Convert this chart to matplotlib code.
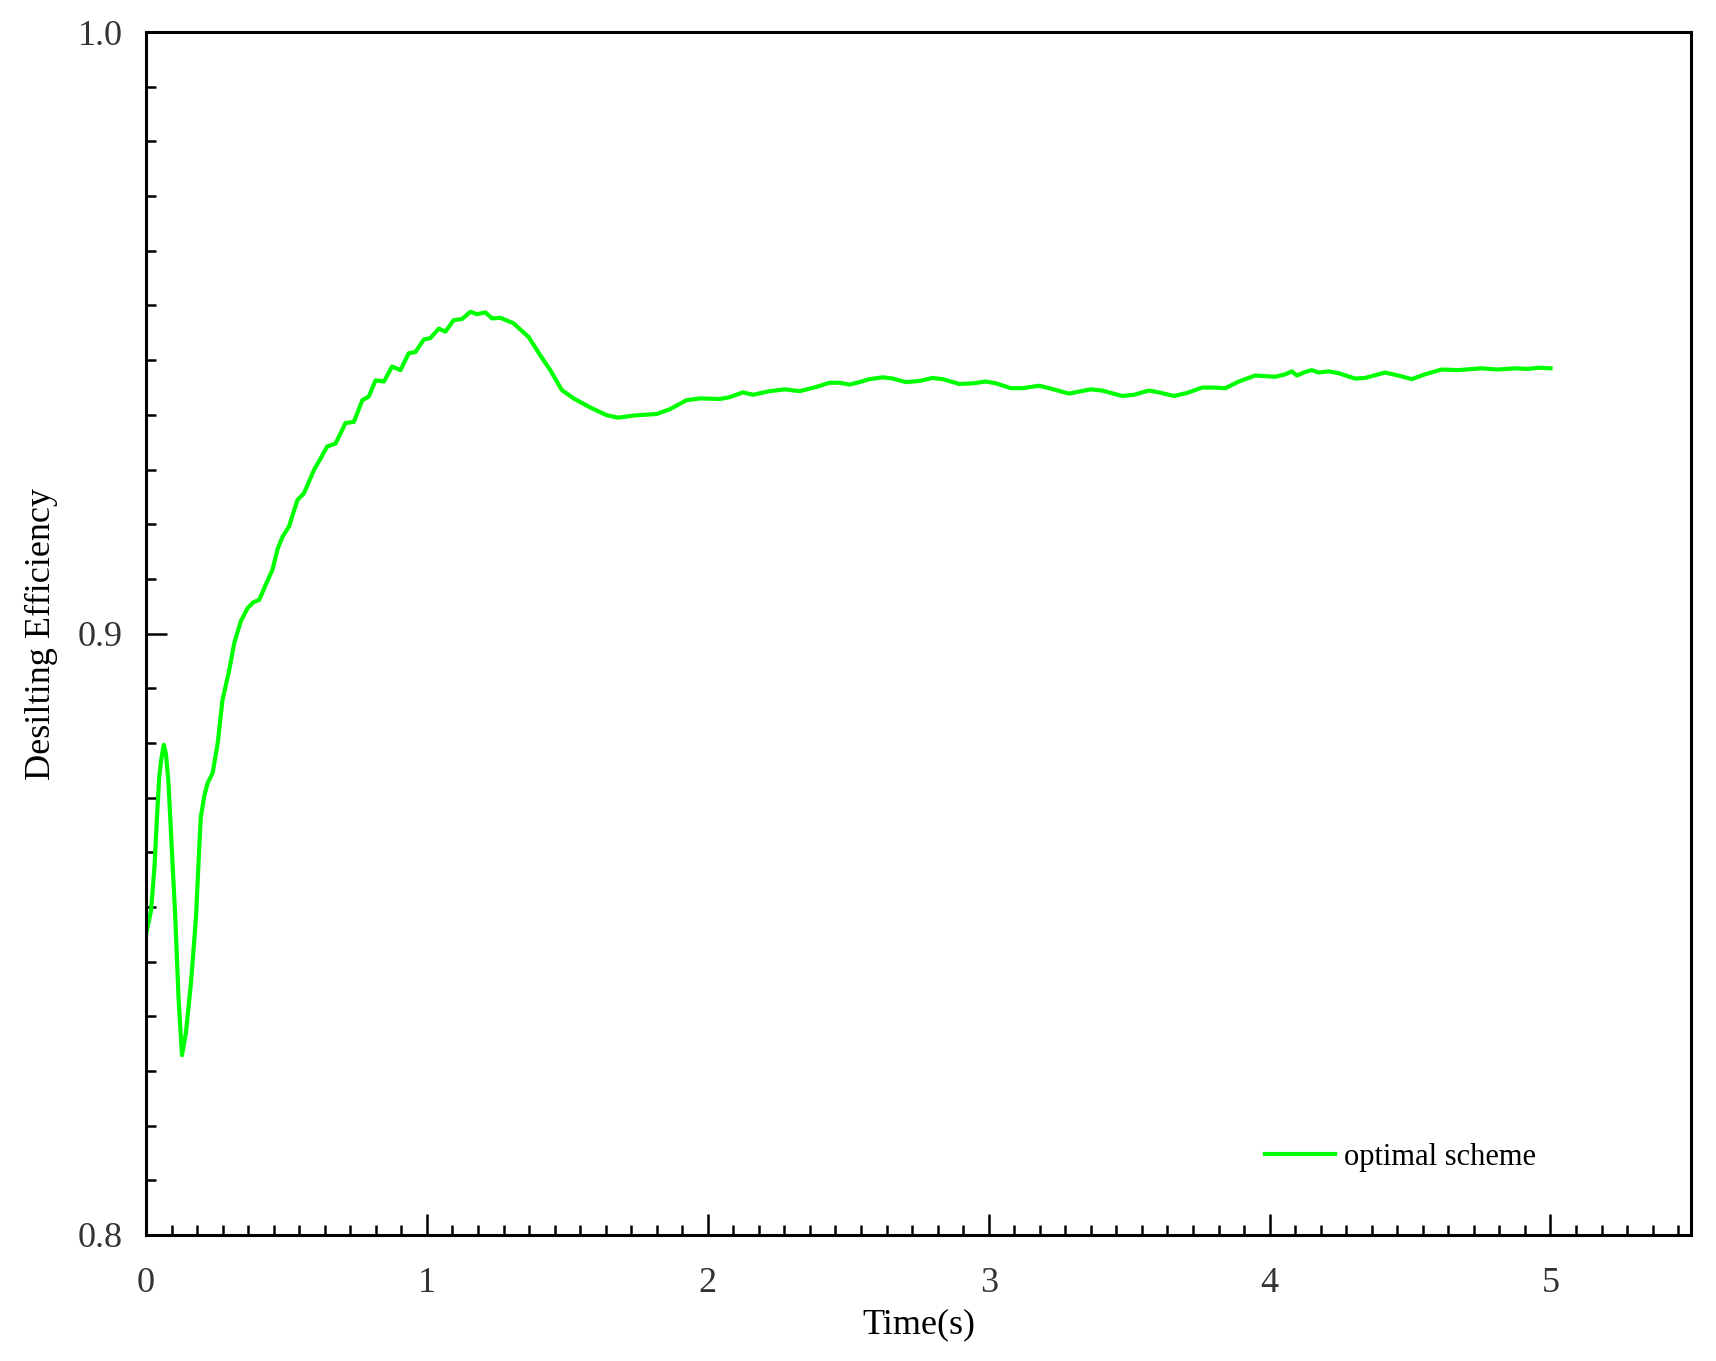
"""
Desilting efficiency vs. time for the optimal scheme.
"""

import matplotlib
matplotlib.use('Agg')
from matplotlib import pyplot as plt
from matplotlib.ticker import MultipleLocator, FixedLocator
import numpy as np

# values
time_s = [
    0.000, 0.018, 0.030, 0.039, 0.047, 0.054, 0.063, 0.071, 0.080, 0.092,
    0.104, 0.116, 0.128, 0.142, 0.160, 0.178, 0.189, 0.195, 0.207, 0.219,
    0.237, 0.255, 0.272, 0.296, 0.314, 0.337, 0.361, 0.382, 0.403, 0.425,
    0.450, 0.468, 0.486, 0.509, 0.539, 0.562, 0.598, 0.620, 0.645, 0.675,
    0.710, 0.740, 0.770, 0.793, 0.817, 0.847, 0.876, 0.906, 0.935, 0.959,
    0.989, 1.012, 1.042, 1.066, 1.095, 1.125, 1.155, 1.178, 1.208, 1.232,
    1.261, 1.308, 1.362, 1.403, 1.439, 1.480, 1.522, 1.581, 1.640, 1.681,
    1.747, 1.818, 1.865, 1.924, 1.972, 2.043, 2.078, 2.125, 2.161, 2.220,
    2.274, 2.327, 2.386, 2.433, 2.469, 2.504, 2.540, 2.575, 2.623, 2.658,
    2.706, 2.753, 2.800, 2.836, 2.895, 2.943, 2.990, 3.026, 3.079, 3.120,
    3.179, 3.215, 3.286, 3.363, 3.404, 3.475, 3.517, 3.570, 3.606, 3.659,
    3.706, 3.760, 3.795, 3.843, 3.890, 3.949, 4.020, 4.056, 4.079, 4.097,
    4.127, 4.150, 4.174, 4.210, 4.245, 4.304, 4.340, 4.411, 4.458, 4.506,
    4.553, 4.612, 4.671, 4.754, 4.813, 4.873, 4.920, 4.956, 5.000,
]
efficiency = [
    0.8499, 0.8540, 0.8612, 0.8695, 0.8762, 0.8790, 0.8815, 0.8800, 0.8751, 0.8640,
    0.8529, 0.8391, 0.8299, 0.8336, 0.8419, 0.8529, 0.8640, 0.8695, 0.8729, 0.8751,
    0.8768, 0.8817, 0.8889, 0.8939, 0.8984, 0.9020, 0.9042, 0.9052, 0.9056, 0.9080,
    0.9106, 0.9140, 0.9161, 0.9178, 0.9222, 0.9233, 0.9272, 0.9290, 0.9311, 0.9316,
    0.9350, 0.9352, 0.9388, 0.9394, 0.9421, 0.9419, 0.9444, 0.9438, 0.9466, 0.9468,
    0.9489, 0.9491, 0.9507, 0.9502, 0.9521, 0.9523, 0.9535, 0.9531, 0.9534, 0.9524,
    0.9525, 0.9516, 0.9493, 0.9463, 0.9438, 0.9405, 0.9391, 0.9376, 0.9363, 0.9359,
    0.9363, 0.9365, 0.9373, 0.9388, 0.9391, 0.9390, 0.9393, 0.9401, 0.9397, 0.9403,
    0.9406, 0.9403, 0.9410, 0.9417, 0.9417, 0.9414, 0.9418, 0.9423, 0.9426, 0.9424,
    0.9418, 0.9420, 0.9425, 0.9423, 0.9415, 0.9416, 0.9419, 0.9416, 0.9408, 0.9408,
    0.9412, 0.9408, 0.9399, 0.9406, 0.9404, 0.9395, 0.9397, 0.9404, 0.9401, 0.9395,
    0.9400, 0.9409, 0.9409, 0.9408, 0.9419, 0.9429, 0.9427, 0.9431, 0.9436, 0.9429,
    0.9435, 0.9438, 0.9434, 0.9436, 0.9433, 0.9424, 0.9425, 0.9434, 0.9429, 0.9423,
    0.9431, 0.9439, 0.9438, 0.9441, 0.9439, 0.9441, 0.9440, 0.9442, 0.9441,
]
series_label = 'optimal scheme'
x_ticks = [0, 1, 2, 3, 4, 5]
y_ticks = [0.8, 0.9, 1.0]
y_tick_labels = ['0.8', '0.9', '1.0']

plt.rcParams['font.family'] = ['Liberation Serif', 'DejaVu Serif']

fig = plt.figure(figsize=(17.16, 13.61), dpi=100)
ax = fig.add_axes([0.0851, 0.0926, 0.9003, 0.8838])

ax.plot(time_s, efficiency, color='#00ff00', linewidth=3.0, label=series_label)

ax.set_xlim(0, 5.5)
ax.set_ylim(0.8, 1.0)

ax.xaxis.set_major_locator(FixedLocator(x_ticks))
ax.xaxis.set_minor_locator(MultipleLocator(1 / 11))
ax.yaxis.set_major_locator(FixedLocator(y_ticks))
ax.yaxis.set_minor_locator(MultipleLocator(0.1 / 11))
ax.set_yticklabels(y_tick_labels)

for side in ['top', 'bottom', 'left', 'right']:
    ax.spines[side].set_linewidth(2.2)
    ax.spines[side].set_color('black')

ax.tick_params(which='both', direction='in', top=False, right=False, width=1.8,
               colors='black', labelsize=26)
ax.tick_params(which='major', length=15)
ax.tick_params(which='minor', length=7.5)
ax.tick_params(axis='x', which='major', pad=23)
ax.tick_params(axis='y', which='major', pad=17)
for label in ax.get_xticklabels() + ax.get_yticklabels():
    label.set_color('#333333')

ax.set_xlabel('Time(s)', fontsize=26, labelpad=6)
ax.set_ylabel('Desilting Efficiency', fontsize=26, labelpad=14)

ax.legend(loc='center left', bbox_to_anchor=(0.7243, 0.0648), frameon=False,
          fontsize=22, handlelength=2.3, handletextpad=0.3, borderpad=0,
          borderaxespad=0)

fig.savefig('out.png', dpi=100)
